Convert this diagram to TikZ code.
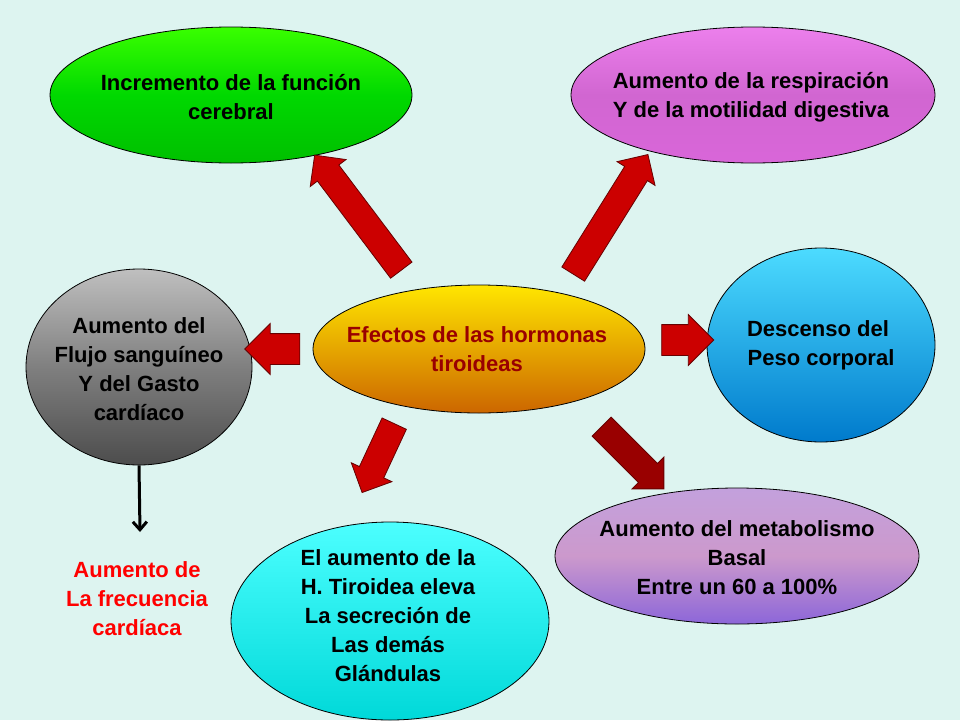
\documentclass[tikz,border=0pt]{standalone}
\usepackage{fontspec}
\setmainfont{Liberation Sans}
\usetikzlibrary{shapes.geometric,shapes.arrows,arrows.meta}
\definecolor{bg}{HTML}{DDF4F0}
\tikzset{
 oval/.style={ellipse,draw=black,line width=0.8pt,inner sep=0pt},
 lbl/.style={align=center,font=\bfseries\fontsize{22}{29}\selectfont},
 blk/.style={single arrow,draw=black!60!red,line width=0.8pt,fill=red!80!black,minimum width=0pt,inner xsep=0pt,inner ysep=13pt,single arrow head extend=9pt,anchor=center}
}
\begin{document}
\begin{tikzpicture}[x=1pt,y=-1pt]
\fill[bg] (0,0) rectangle (960,720);
\useasboundingbox (0,0) rectangle (960,720);
\node[oval,minimum width=362pt,minimum height=136pt,top color=green!70!lime,bottom color=green!75!black,middle color=green!85!black] (g) at (231,95) {};
\node[lbl] (gt) at (231,97) {Incremento de la función\\cerebral};
\node[oval,minimum width=364pt,minimum height=136pt,top color=violet!30!magenta!50,bottom color=violet!50!magenta!60,middle color=magenta!40!violet!60] (p) at (753,95) {};
\node[lbl] (pt) at (751,97) {Aumento de la respiración\\Y de la motilidad digestiva};
\node[oval,minimum width=332pt,minimum height=128pt,top color=yellow!80!orange,bottom color=orange!80!black] (c) at (479,349) {};
\node[lbl,text=red!60!black] (ct) at (477,349) {Efectos de las hormonas\\tiroideas};
\node[oval,minimum width=226pt,minimum height=196pt,top color=gray!50,bottom color=gray!60!black,middle color=gray] (l) at (139,367) {};
\node[lbl] (lt) at (139,369) {Aumento del\\Flujo sanguíneo\\Y del Gasto\\cardíaco};
\node[oval,minimum width=228pt,minimum height=194pt,top color=cyan!80!blue!70,bottom color=cyan!60!blue!80!black] (r) at (821,345) {};
\node[lbl] (rt) at (818,345) {Descenso del\\\ Peso corporal};
\node[oval,minimum width=318pt,minimum height=198pt,top color=cyan!70,bottom color=cyan!70!teal] (b) at (390,621) {};
\node[lbl] (bt) at (388,616) {El aumento de la\\H. Tiroidea  eleva\\La secreción de\\Las demás\\Glándulas};
\node[oval,minimum width=364pt,minimum height=136pt,top color=violet!30!white!90!blue,bottom color=violet!50!blue!60,middle color=violet!40] (m) at (737,556) {};
\node[lbl] (mt) at (737,558) {Aumento del metabolismo\\Basal\\Entre un 60 a 100\%};
\node[blk,minimum height=144pt,rotate=127] (a1) at (362,218) {};
\node[blk,minimum height=141pt,rotate=58] (a2) at (607,220) {};
\node[blk,minimum height=55pt,inner ysep=15pt,single arrow head extend=10pt,rotate=180] (a3) at (280,349) {};
\node[blk,minimum height=52pt,inner ysep=15pt,single arrow head extend=10pt] (a4) at (680,340) {};
\node[blk,minimum height=76pt,rotate=-115] (a5) at (381,452) {};
\node[blk,minimum height=88pt,rotate=-45,fill=red!60!black] (a6) at (628,453) {};
\coordinate (t) at (140,532);
\draw[line width=3pt,-{Straight Barb[length=8pt,width=14pt]}] (l.south) -- (t);
\node[font=\bfseries\fontsize{22}{29}\selectfont,text=red,align=center] (f) at (137,599) {Aumento  de\\La frecuencia\\cardíaca};
\end{tikzpicture}
\end{document}
